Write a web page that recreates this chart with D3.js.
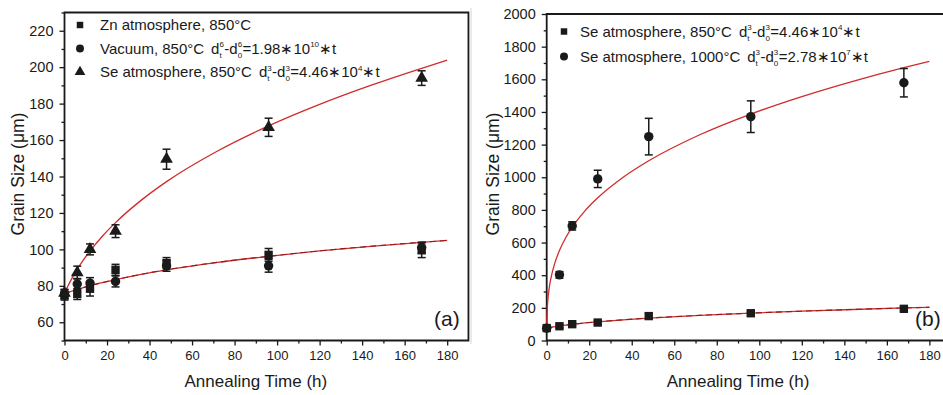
<!DOCTYPE html>
<html>
<head>
<meta charset="utf-8">
<script src="https://cdn.jsdelivr.net/npm/d3@7"></script>
<style>
  body { margin: 0; background: #fff; }
  svg { font-family: "Liberation Sans", Arial, sans-serif; }
</style>
</head>
<body>
<svg id="chart" width="943" height="395"></svg>
<script>
// measured points (h, µm)
const times = [0, 6, 12, 24, 48, 96, 168];
const znSize = [74.7, 75.5, 78.4, 88.8, 92.5, 97, 99.5];
const znErr = [2.5, 3, 4, 3, 3, 3.5, 4];
const vacSize = [75.5, 81, 81.5, 82.4, 91, 91, 101];
const vacErr = [2.5, 3, 3, 3, 3, 3.5, 3];
const se850Size = [76, 87.3, 100, 110, 149.5, 167, 194];
const se850Err = [2, 3.5, 3, 3.5, 5.5, 5, 4];
const se1000Size = [75, 402, 702, 990, 1249, 1371, 1579];
const se1000Err = [10, 20, 25, 53, 112, 97, 87];

// fitted curves
const se850FitT = [0, 1, 2, 4, 6, 9, 12, 18, 24, 36, 48, 72, 96, 120, 144, 168, 180];
const se850Fit = [76, 78.5, 80.8, 85.2, 89.1, 94.4, 99.1, 107.5, 114.7, 126.9, 137.2, 154.0, 167.8, 179.6, 190.0, 199.4, 203.8];
const lowFitT = [0, 1, 3, 6, 12, 24, 36, 48, 72, 96, 120, 144, 168, 180];
const lowFit = [75.5, 75.9, 76.9, 78.0, 80.1, 83.4, 86.3, 88.8, 92.9, 96.2, 99.2, 101.7, 103.9, 104.9];
const se1000FitT = [0, 0.05, 0.1, 0.25, 0.5, 1, 2, 4, 6, 9, 12, 18, 24, 36, 48, 72, 96, 120, 144, 168, 180];
const se1000Fit = [75, 121.9, 147.4, 194.6, 242.9, 304.4, 382.6, 481.5, 550.9, 630.6, 693.9, 794.1, 873.9, 1000.4, 1101.0, 1260.3, 1387.3, 1494.3, 1588.0, 1672.0, 1710.4];

const xTicks = [0, 20, 40, 60, 80, 100, 120, 140, 160, 180];
const yTicksA = [60, 80, 100, 120, 140, 160, 180, 200, 220];
const yTicksB = [0, 200, 400, 600, 800, 1000, 1200, 1400, 1600, 1800, 2000];

const svg = d3.select("#chart");
const red = "#d12b2b";
const ink = "#1a1a1a";

const zip = (xs, ys) => xs.map((t, i) => ({t, v: ys[i]}));

function drawPanel(o) {
  let x = d3.scaleLinear().domain([0, 190]).range([o.left, o.left + 190 * 2.126]);
  let y = d3.scaleLinear().domain(o.yDomain).range([340.5, o.top]);
  const g = svg.append("g");

  // minor + major ticks
  g.append("g")
    .attr("transform", "translate(0,340.5)")
    .call(d3.axisBottom(x).tickValues(d3.range(10, 190, 20)).tickSize(3).tickFormat(""))
    .call(g => g.select(".domain").remove());
  g.append("g")
    .attr("transform", "translate(0,340.5)")
    .call(d3.axisBottom(x).tickValues(xTicks).tickSize(5).tickPadding(5).tickFormat(d3.format("d")))
    .call(g => g.select(".domain").remove())
    .attr("font-size", 13);
  g.append("g")
    .attr("transform", `translate(${o.left},0)`)
    .call(d3.axisLeft(y).tickValues(o.yMinor).tickSize(3).tickFormat(""))
    .call(g => g.select(".domain").remove());
  g.append("g")
    .attr("transform", `translate(${o.left},0)`)
    .call(d3.axisLeft(y).tickValues(o.yTicks).tickSize(5).tickPadding(6).tickFormat(d3.format("d")))
    .call(g => g.select(".domain").remove())
    .attr("font-size", 14.5);
  g.selectAll(".tick line").attr("stroke", ink).attr("stroke-width", 1.3);
  g.selectAll(".tick text").attr("fill", ink);

  // frame
  const fr = x.range();
  g.append("path")
    .attr("d", `M${fr[1]},${o.top}H${fr[0]}V340.5H${fr[1]}` + (o.closed ? "Z" : ""))
    .attr("fill", "none").attr("stroke", ink).attr("stroke-width", 1.8);

  const line = d3.line().x(d => x(d.t)).y(d => y(d.v)).curve(d3.curveMonotoneX);
  o.fits.forEach(f => {
    g.append("path").datum(f.data).attr("d", line)
      .attr("fill", "none").attr("stroke", red).attr("stroke-width", 1.3);
    if (f.dashed) {
      g.append("path").datum(f.data).attr("d", line)
        .attr("fill", "none").attr("stroke", "#8e1d1d").attr("stroke-width", 1.1)
        .attr("stroke-dasharray", "6,4");
    }
  });

  o.series.forEach(s => {
    const pts = times.map((t, i) => ({t, v: s.vals[i], e: s.err[i]}));
    const eg = g.append("g").attr("stroke", ink).attr("stroke-width", 1.5);
    pts.forEach(d => {
      const cx = x(d.t), y0 = y(d.v - d.e), y1 = y(d.v + d.e);
      eg.append("line").attr("x1", cx).attr("x2", cx).attr("y1", y0).attr("y2", y1);
      eg.append("line").attr("x1", cx - 4).attr("x2", cx + 4).attr("y1", y0).attr("y2", y0);
      eg.append("line").attr("x1", cx - 4).attr("x2", cx + 4).attr("y1", y1).attr("y2", y1);
    });
    g.append("g").selectAll("path").data(pts).join("path")
      .attr("transform", d => `translate(${x(d.t)},${y(d.v)})`)
      .attr("d", d3.symbol(s.sym, s.size))
      .attr("fill", ink);
  });

  g.append("text").attr("x", (x(0) + x(180)) / 2).attr("y", 387)
    .attr("text-anchor", "middle").attr("font-size", 17).attr("fill", ink)
    .text("Annealing Time (h)");
  g.append("text")
    .attr("transform", `translate(${o.titleX},174) rotate(-90)`)
    .attr("text-anchor", "middle").attr("font-size", 17.5).attr("fill", ink)
    .text("Grain Size (μm)");
  g.append("text").attr("x", o.tagX).attr("y", 326).attr("font-size", 21).attr("fill", ink)
    .text(o.tag);

  // legend, with stacked super/subscripts
  o.legend.forEach((l, i) => {
    const cy = o.legY + i * o.legStep;
    g.append("path").attr("transform", `translate(${o.legX},${cy})`)
      .attr("d", d3.symbol(l.sym, l.size)).attr("fill", ink);
    const t = g.append("text").attr("x", o.legX + o.legGap).attr("y", cy + 5)
      .attr("font-size", 15).attr("fill", ink);
    let shift = 0, supLen = 0, pad = 0;
    l.parts.forEach(([s, k, dx]) => {
      const target = k === "sup" ? -6.5 : k === "sub" ? 4 : 0;
      const ts = t.append("tspan").text(s).attr("dy", target - shift);
      if (k !== "n") ts.attr("font-size", 8);
      let off = (dx || 0) + pad;
      pad = 0;
      if (k === "sub") off -= supLen;
      if (off) ts.attr("dx", off);
      const len = ts.node().getComputedTextLength();
      if (k === "sup") supLen = len;
      if (k === "sub") pad = Math.max(0, supLen - len) + 0.4;
      shift = target;
    });
  });
}

const eqParts = (n, a, e) => [
  ["d", "n", 7], [n, "sup"], ["t", "sub"], ["-d", "n"], [n, "sup"], ["0", "sub"],
  ["=" + a + "∗10", "n"], [e, "sup"], ["∗t", "n"]
];

// faint border left of panel (b)
svg.append("line").attr("x1", 471).attr("x2", 471).attr("y1", 8).attr("y2", 344)
  .attr("stroke", "#dcdcdc").attr("stroke-width", 1.2);

drawPanel({
  left: 64.5, top: 12.5, closed: true, yDomain: [50, 230],
  yTicks: yTicksA, yMinor: d3.range(50, 231, 10).filter(v => v % 20 !== 0),
  titleX: 24, tag: "(a)", tagX: 434,
  fits: [
    {data: zip(se850FitT, se850Fit)},
    {data: zip(lowFitT, lowFit), dashed: true}
  ],
  series: [
    {vals: znSize, err: znErr, sym: d3.symbolSquare, size: 70},
    {vals: vacSize, err: vacErr, sym: d3.symbolCircle, size: 70},
    {vals: se850Size, err: se850Err, sym: d3.symbolTriangle, size: 70}
  ],
  legX: 80, legGap: 20, legY: 25, legStep: 23.5,
  legend: [
    {sym: d3.symbolSquare, size: 42, parts: [["Zn atmosphere, 850°C", "n"]]},
    {sym: d3.symbolCircle, size: 50, parts: [["Vacuum, 850°C", "n"]].concat(eqParts("6", "1.98", "10"))},
    {sym: d3.symbolTriangle, size: 50, parts: [["Se atmosphere, 850°C", "n"]].concat(eqParts("3", "4.46", "4"))}
  ]
});

drawPanel({
  left: 546.7, top: 14, closed: false, yDomain: [0, 2000],
  yTicks: yTicksB, yMinor: d3.range(100, 2000, 200),
  titleX: 499, tag: "(b)", tagX: 915,
  fits: [
    {data: zip(se1000FitT, se1000Fit)},
    {data: zip(se850FitT, se850Fit), dashed: true}
  ],
  series: [
    {vals: se850Size, err: se850Err.map(e => e * 3), sym: d3.symbolSquare, size: 70},
    {vals: se1000Size, err: se1000Err, sym: d3.symbolCircle, size: 70}
  ],
  legX: 564, legGap: 16, legY: 31.5, legStep: 25,
  legend: [
    {sym: d3.symbolSquare, size: 42, parts: [["Se atmosphere, 850°C", "n"]].concat(eqParts("3", "4.46", "4"))},
    {sym: d3.symbolCircle, size: 50, parts: [["Se atmosphere, 1000°C", "n"], ["", "n", 4]].concat(eqParts("3", "2.78", "7"))}
  ]
});
</script>
</body>
</html>
